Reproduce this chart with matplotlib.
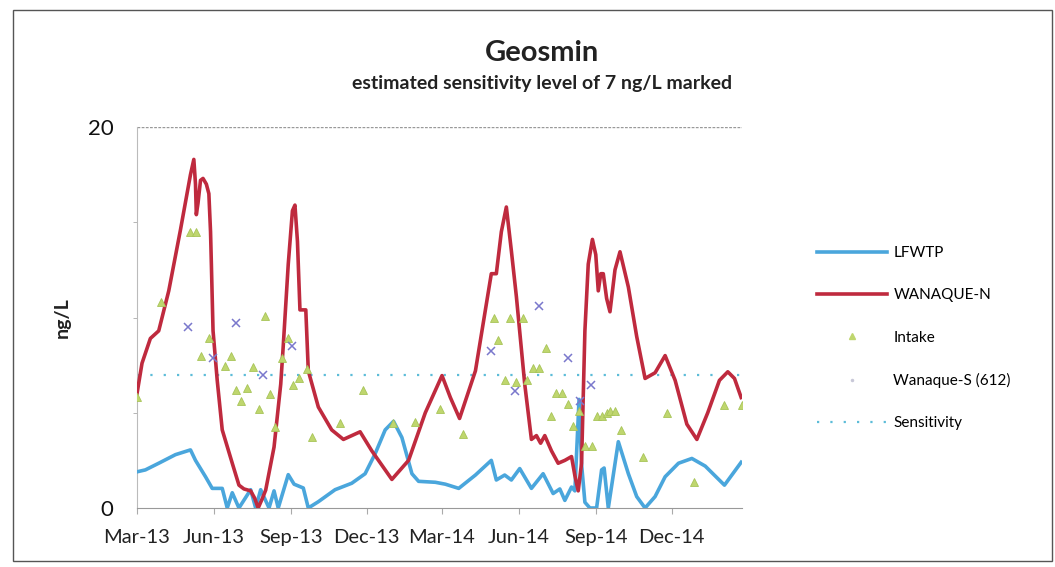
import numpy as np
import matplotlib
matplotlib.use("Agg")
import matplotlib.pyplot as plt
import matplotlib.dates as mdates
from matplotlib.lines import Line2D
from matplotlib.patches import Rectangle

plt.rcParams['font.family'] = ['Lato', 'DejaVu Sans']

# day offsets from 1 Mar 2013, values in ng/L
start = np.datetime64('2013-03-01')
end_day = 724

wanaque_n_days = [0, 6, 16, 26, 38, 52, 64, 68, 70, 71, 73, 76, 79, 83, 86, 88, 89, 91, 96,
                  102, 114, 122, 128, 136, 141, 145, 150, 154, 164, 172, 175, 181, 186, 189,
                  192, 195, 202, 205, 217, 233, 247, 257, 267, 281, 305, 325, 345, 365, 375,
                  386, 405, 424, 430, 436, 442, 448, 454, 464, 472, 478, 483, 488, 496, 504,
                  512, 520, 524, 528, 532, 536, 540, 545, 549, 552, 555, 558, 562, 566, 572,
                  578, 588, 598, 608, 620, 632, 644, 658, 670, 683, 697, 707, 715, 723]
wanaque_n_vals = [6.0, 7.6, 8.9, 9.3, 11.4, 14.6, 17.5, 18.3, 17.0, 15.4, 16.0, 17.2, 17.3,
                  17.0, 16.5, 14.5, 12.8, 9.3, 6.7, 4.1, 2.35, 1.2, 1.0, 0.9, 0.5, 0.0, 0.5,
                  0.94, 3.2, 6.5, 8.5, 12.8, 15.6, 15.9, 14.0, 10.4, 10.4, 7.2, 5.3, 4.1, 3.6,
                  3.8, 4.0, 3.0, 1.5, 2.5, 5.0, 6.95, 5.8, 4.7, 7.2, 12.3, 12.3, 14.5, 15.8,
                  13.5, 11.1, 6.5, 3.6, 3.8, 3.4, 3.8, 3.0, 2.35, 2.5, 2.7, 1.7, 0.9, 2.35,
                  9.3, 12.8, 14.1, 13.3, 11.4, 12.3, 12.3, 11.0, 10.3, 12.5, 13.45, 11.6, 9.0,
                  6.8, 7.1, 8.0, 6.7, 4.4, 3.6, 5.0, 6.7, 7.15, 6.8, 5.8]

lfwtp_days = [0, 10, 26, 46, 64, 70, 82, 90, 102, 108, 114, 122, 136, 142, 148, 158, 164,
              169, 181, 188, 199, 205, 217, 237, 257, 273, 285, 297, 307, 317, 329, 337, 357,
              369, 385, 405, 424, 430, 440, 448, 458, 472, 486, 498, 506, 512, 520, 524, 529,
              532, 536, 542, 550, 556, 559, 564, 576, 588, 598, 608, 620, 632, 648, 664, 680,
              703, 723]
lfwtp_vals = [1.9, 2.0, 2.35, 2.8, 3.05, 2.5, 1.64, 1.03, 1.03, 0.0, 0.8, 0.0, 0.96, 0.0,
              0.96, 0.0, 0.9, 0.0, 1.75, 1.25, 1.05, 0.0, 0.33, 0.96, 1.3, 1.8, 2.85, 4.1,
              4.55, 3.7, 1.8, 1.4, 1.35, 1.25, 1.03, 1.73, 2.5, 1.47, 1.73, 1.47, 2.07, 1.03,
              1.8, 0.76, 1.0, 0.4, 1.1, 0.9, 5.7, 2.3, 0.3, 0.0, 0.0, 2.0, 2.1, 0.0, 3.48,
              1.8, 0.6, 0.0, 0.6, 1.64, 2.35, 2.6, 2.2, 1.2, 2.4]

intake_days = [0, 29, 64, 71, 76, 86, 105, 112, 119, 125, 132, 139, 146, 153, 159, 165, 174,
               181, 187, 194, 203, 209, 243, 271, 306, 333, 362, 390, 427, 432, 440, 446,
               454, 462, 467, 474, 481, 489, 495, 502, 508, 516, 522, 529, 536, 544, 550,
               556, 562, 566, 572, 579, 606, 634, 667, 703, 724]
intake_vals = [5.84, 10.8, 14.5, 14.5, 8.0, 8.9, 7.45, 8.0, 6.2, 5.6, 6.3, 7.4, 5.2, 10.1,
               6.0, 4.24, 7.85, 8.9, 6.46, 6.8, 7.3, 3.74, 4.48, 6.2, 4.45, 4.5, 5.2, 3.9,
               9.96, 8.8, 6.7, 10.0, 6.6, 10.0, 6.7, 7.33, 7.33, 8.4, 4.83, 6.05, 6.05, 5.46,
               4.28, 5.1, 3.25, 3.25, 4.83, 4.83, 5.0, 5.1, 5.1, 4.1, 2.66, 5.0, 1.38, 5.4, 5.4]

wanaque_s_days = [61, 91, 119, 151, 186, 424, 452, 481, 516, 530, 543]
wanaque_s_vals = [9.5, 7.9, 9.73, 7.0, 8.5, 8.24, 6.16, 10.6, 7.9, 5.6, 6.46]

sens_days = [0, end_day]
sens_vals = [7, 7]


def to_dates(days):
    return start + np.array(days).astype('timedelta64[D]')


fig = plt.figure(figsize=(10.55, 5.67), dpi=100)
ax = fig.add_axes([137 / 1055, 1 - 508 / 567, 605 / 1055, 381 / 567])

blue = '#4aa6dc'
red = '#bf2a3e'
green = '#bfd66e'
purple = '#7a78cc'

ax.plot(to_dates(sens_days), sens_vals, color='#5cbcd8', lw=1.6, ls=(0, (1, 5)), zorder=2)
ax.plot(to_dates(lfwtp_days), lfwtp_vals, color=blue, lw=2.6, zorder=3)
ax.plot(to_dates(wanaque_n_days), wanaque_n_vals, color=red, lw=2.6, zorder=4)
ax.plot(to_dates(intake_days), intake_vals, ls='none', marker='^', ms=6,
        mfc=green, mec='#a8c458', mew=0.6, zorder=5)
ax.plot(to_dates(wanaque_s_days), wanaque_s_vals, ls='none', marker='x', ms=6,
        mec=purple, mew=1.1, zorder=5)

ax.set_xlim(to_dates([0])[0], to_dates([end_day])[0])
ax.set_ylim(0, 20)
ax.set_yticks([0, 20])
ax.set_yticks([5, 10, 15], minor=True)
ax.axhline(20, color='#999999', lw=1.0, ls=(0, (2, 1)), zorder=1)

ax.xaxis.set_major_locator(mdates.MonthLocator(bymonth=[3, 6, 9, 12]))
ax.xaxis.set_major_formatter(mdates.DateFormatter('%b-%y'))

for s in ['top', 'right']:
    ax.spines[s].set_visible(False)
ax.spines['bottom'].set_color('#999999')
ax.spines['left'].set_color('#bbbbbb')
ax.spines['left'].set_linestyle((0, (2, 1)))
ax.tick_params(axis='x', length=4, color='#aaaaaa', labelsize=14.5, pad=11, labelcolor='#222222')
ax.tick_params(axis='y', which='major', length=0, labelsize=16, pad=17, labelcolor='#111111')
ax.tick_params(axis='y', which='minor', length=3, color='#aaaaaa')

fig.text(542 / 1055, 1 - 53 / 567, 'Geosmin', ha='center', va='center',
         fontsize=21, fontweight='bold', color='#222222')
fig.text(542 / 1055, 1 - 84 / 567, 'estimated sensitivity level of 7 ng/L marked',
         ha='center', va='center', fontsize=14, fontweight='bold', color='#222222')
fig.text(62 / 1055, 1 - 318 / 567, 'ng/L', rotation=90, ha='center', va='center',
         fontsize=14, fontweight='bold', color='#222222')

handles = [
    Line2D([], [], color=blue, lw=2.6),
    Line2D([], [], color=red, lw=2.6),
    Line2D([], [], ls='none', marker='^', ms=4, mfc=green, mec=green),
    Line2D([], [], ls='none', marker='.', ms=3, color='#c8c8d8'),
    Line2D([], [], color='#5cbcd8', lw=1.6, ls=(0, (1, 5))),
]
labels = ['LFWTP', 'WANAQUE-N', 'Intake', 'Wanaque-S (612)', 'Sensitivity']
fig.legend(handles, labels, loc='upper left', bbox_to_anchor=(817 / 1055, 1 - 246 / 567),
           frameon=False, fontsize=11, handlelength=4.6, handletextpad=0.4,
           labelspacing=1.85, borderaxespad=0, borderpad=0)

fig.add_artist(Rectangle((13 / 1055, 1 - 561 / 567), 1039 / 1055, 551 / 567,
                         transform=fig.transFigure, fill=False, ec='#555555', lw=1.0))

fig.savefig('out.png', dpi=100)
